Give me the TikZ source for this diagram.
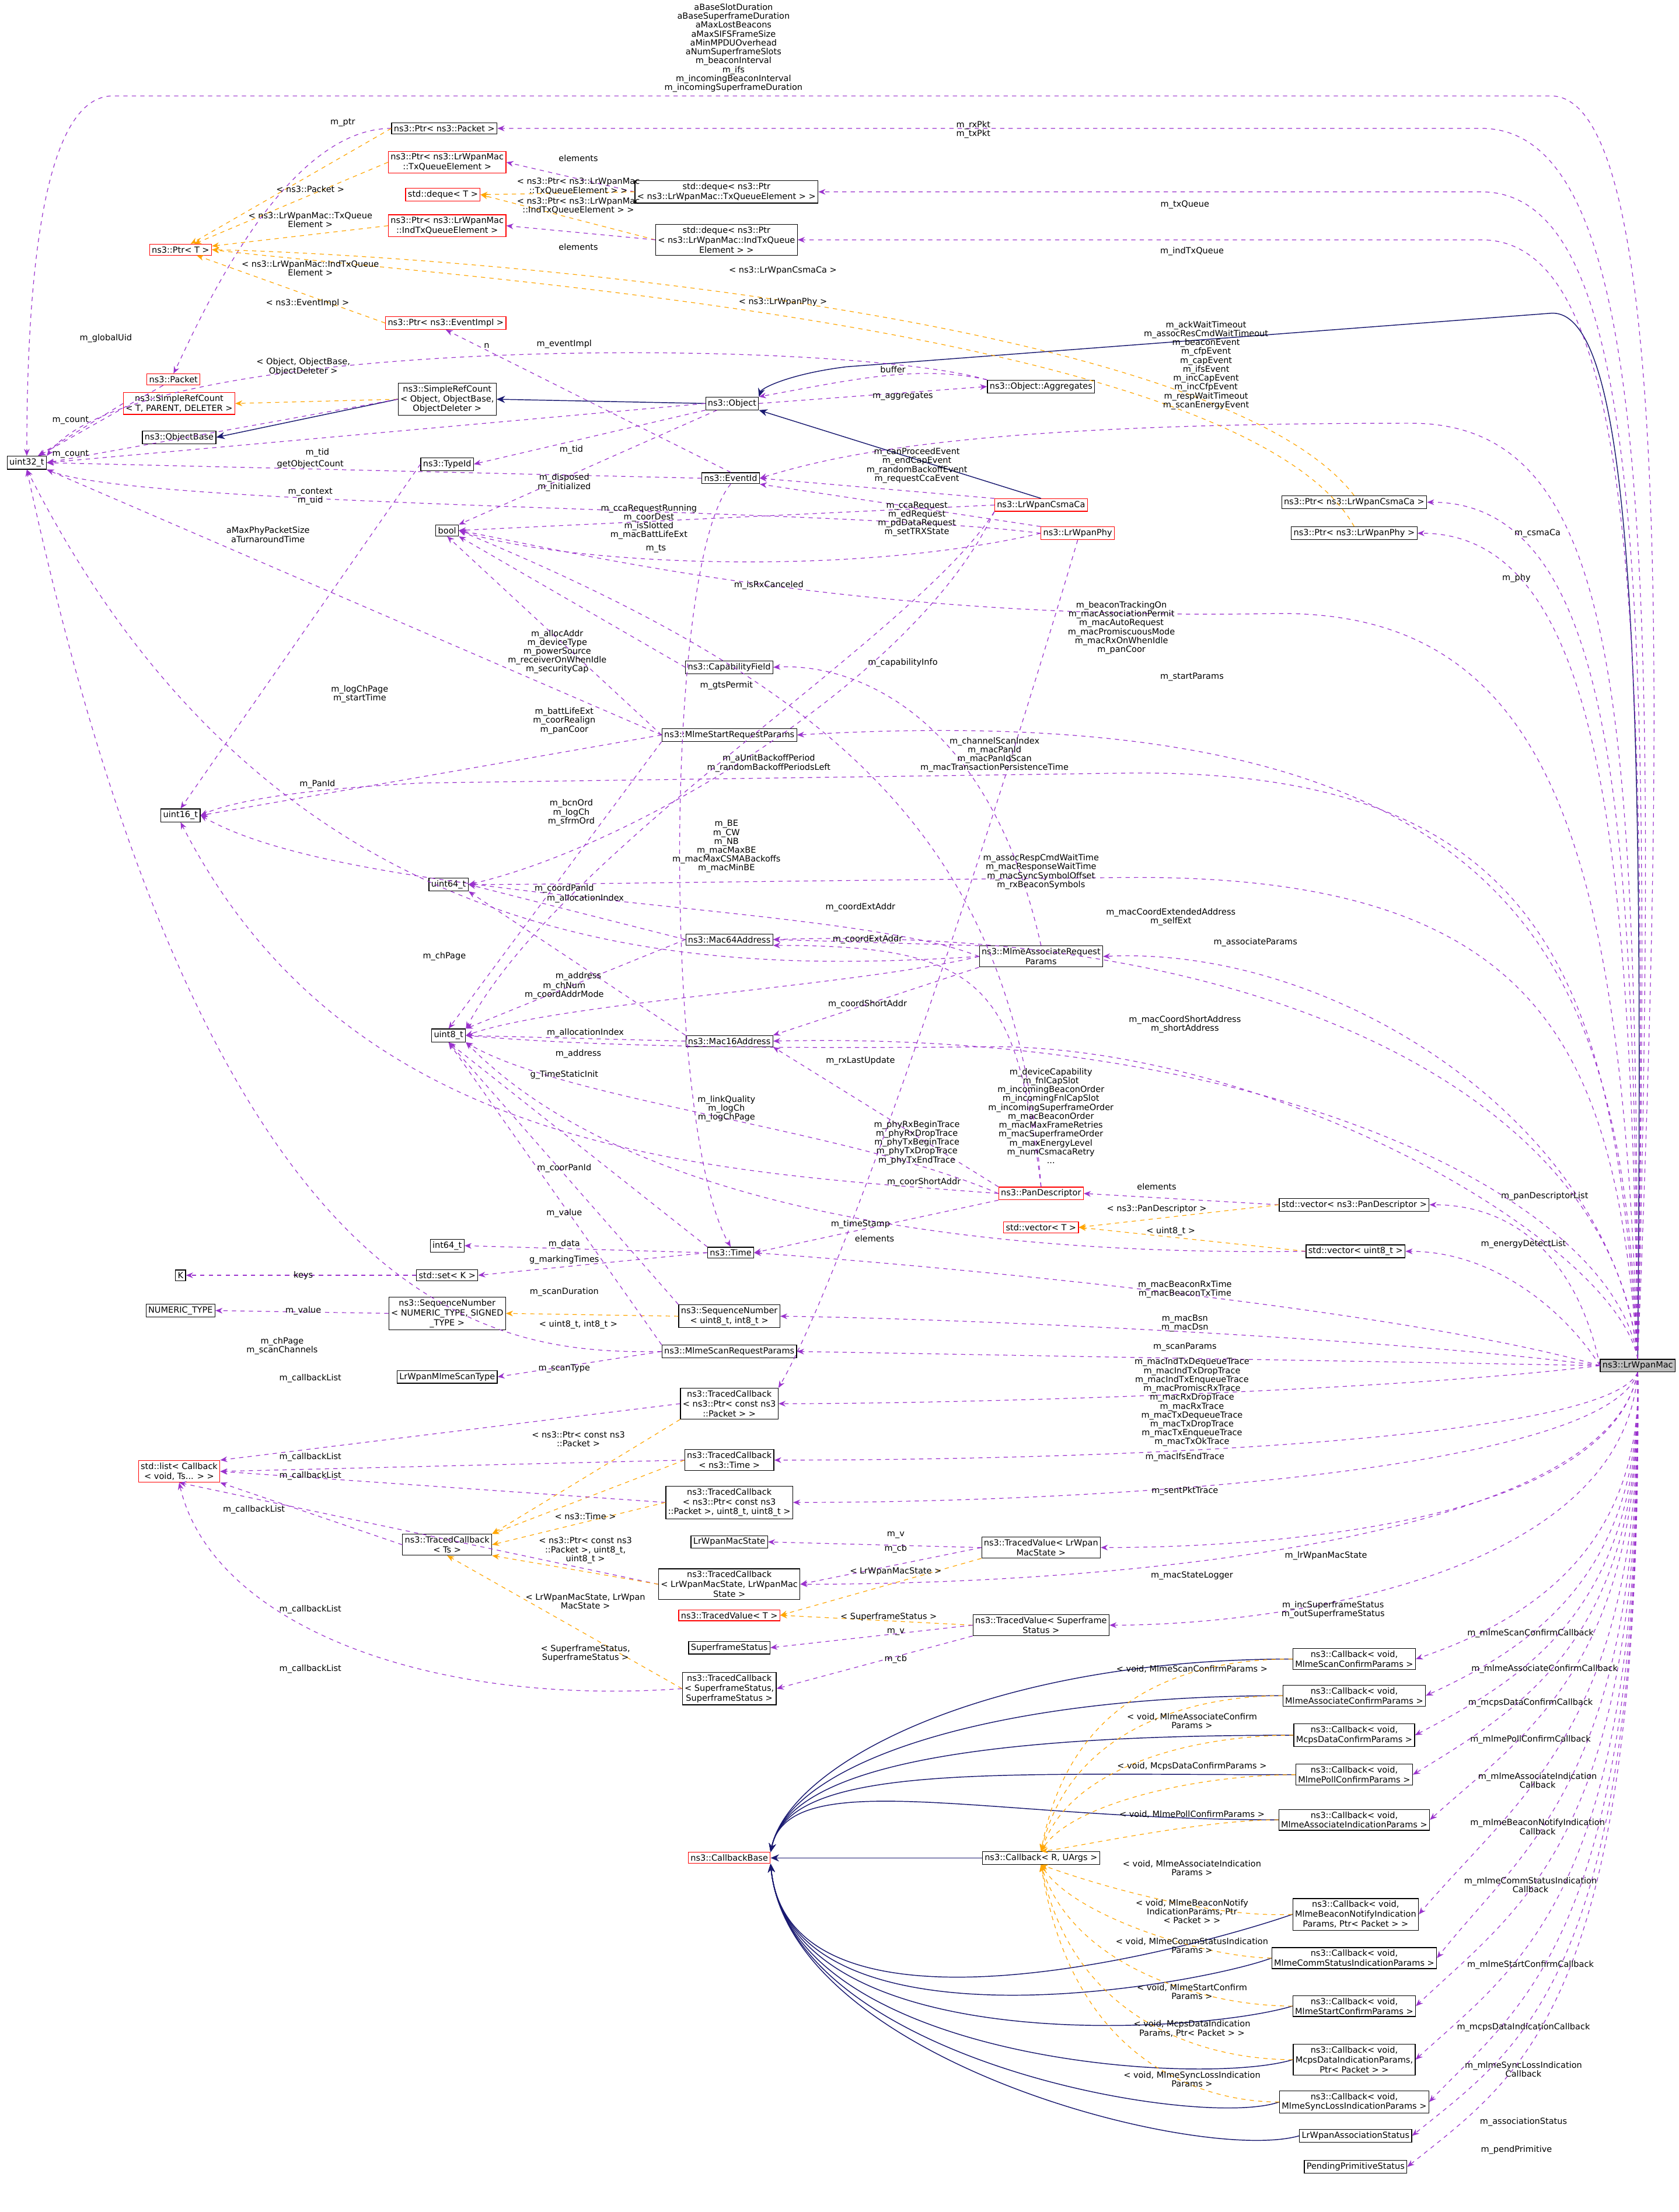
\documentclass[tikz,border=0pt]{standalone}
\usepackage{fontspec}
\setmainfont{DejaVu Sans}
\usetikzlibrary{arrows.meta}
\definecolor{navy}{HTML}{191970}
\definecolor{purp}{HTML}{9A32CD}
\definecolor{orng}{HTML}{FFA500}
\tikzset{
 bx/.style={draw=black,fill=white,font=\fontsize{6}{7}\selectfont,align=center,inner sep=1.6pt,line width=0.5pt},
 rbx/.style={bx,draw=red},
 gbx/.style={bx,fill=black!25},
 use/.style={draw=purp,dashed,-{Stealth[length=5pt,width=4pt]},line width=0.5pt},
 inh/.style={draw=navy,-{Stealth[length=6pt,width=5pt]},line width=0.6pt},
 tpl/.style={draw=orng,dashed,-{Stealth[length=5pt,width=4pt]},line width=0.5pt},
 lbl/.style={font=\fontsize{6}{6.3}\selectfont,align=center,inner sep=0.5pt}
}
\begin{document}
\begin{tikzpicture}[x=1pt,y=-1pt]
\useasboundingbox[fill=white] (0,0) rectangle (1190,1568);
% ---------- nodes
\node[bx] (u32) at (19,328) {uint32\_t};
\node[rbx] (packet) at (123,269) {ns3::Packet};
\node[rbx] (ptrT) at (128,177) {ns3::Ptr< T >};
\node[bx] (ptrPkt) at (315,91) {ns3::Ptr< ns3::Packet >};
\node[rbx] (ptrTxQE) at (317,115) {ns3::Ptr< ns3::LrWpanMac\\::TxQueueElement >};
\node[rbx] (dequeT) at (314,138) {std::deque< T >};
\node[rbx] (ptrIndQE) at (317,160) {ns3::Ptr< ns3::LrWpanMac\\::IndTxQueueElement >};
\node[bx] (dqTx) at (515,136) {std::deque< ns3::Ptr\\< ns3::LrWpanMac::TxQueueElement > >};
\node[bx] (dqInd) at (515,170) {std::deque< ns3::Ptr\\< ns3::LrWpanMac::IndTxQueue\\Element > >};
\node[rbx] (ptrEv) at (316,229) {ns3::Ptr< ns3::EventImpl >};
\node[rbx] (srcT) at (127,286) {ns3::SimpleRefCount\\< T, PARENT, DELETER >};
\node[bx] (objBase) at (127,310) {ns3::ObjectBase};
\node[bx] (srcObj) at (317,283) {ns3::SimpleRefCount\\< Object, ObjectBase,\\ObjectDeleter >};
\node[bx] (obj) at (519,286) {ns3::Object};
\node[bx] (aggr) at (738,274) {ns3::Object::Aggregates};
\node[bx] (typeId) at (317,329) {ns3::TypeId};
\node[bx] (eventId) at (518,339) {ns3::EventId};
\node[bx] (bool) at (317,376) {bool};
\node[rbx] (csma) at (738,358) {ns3::LrWpanCsmaCa};
\node[rbx] (phy) at (764,378) {ns3::LrWpanPhy};
\node[bx] (ptrCsma) at (960,356) {ns3::Ptr< ns3::LrWpanCsmaCa >};
\node[bx] (ptrPhy) at (960,378) {ns3::Ptr< ns3::LrWpanPhy >};
\node[bx] (capField) at (517,473) {ns3::CapabilityField};
\node[bx] (startReq) at (517,521) {ns3::MlmeStartRequestParams};
\node[bx] (u16) at (128,578) {uint16\_t};
\node[bx] (u64) at (318,627) {uint64\_t};
\node[bx] (mac64) at (517,666) {ns3::Mac64Address};
\node[bx] (assocReq) at (738,678) {ns3::MlmeAssociateRequest\\Params};
\node[bx] (u8) at (318,734) {uint8\_t};
\node[bx] (mac16) at (517,738) {ns3::Mac16Address};
\node[rbx] (panDesc) at (738,846) {ns3::PanDescriptor};
\node[bx] (vecPan) at (960,854) {std::vector< ns3::PanDescriptor >};
\node[rbx] (vecT) at (738,870) {std::vector< T >};
\node[bx] (vecU8) at (961,887) {std::vector< uint8\_t >};
\node[bx] (i64) at (317,883) {int64\_t};
\node[bx] (K) at (128,904) {K};
\node[bx] (setK) at (317,904) {std::set< K >};
\node[bx] (time) at (518,888) {ns3::Time};
\node[bx] (numT) at (128,929) {NUMERIC\_TYPE};
\node[bx] (seqT) at (317,931) {ns3::SequenceNumber\\< NUMERIC\_TYPE, SIGNED\\\_TYPE >};
\node[bx] (seqU8) at (517,933) {ns3::SequenceNumber\\< uint8\_t, int8\_t >};
\node[bx] (scanReq) at (517,958) {ns3::MlmeScanRequestParams};
\node[bx] (scanType) at (317,976) {LrWpanMlmeScanType};
\node[bx] (tcPkt) at (517,995) {ns3::TracedCallback\\< ns3::Ptr< const ns3\\::Packet > >};
\node[rbx] (list) at (127,1043) {std::list< Callback\\< void, Ts... > >};
\node[bx] (tcTime) at (517,1035) {ns3::TracedCallback\\< ns3::Time >};
\node[bx] (tcPkt88) at (517,1065) {ns3::TracedCallback\\< ns3::Ptr< const ns3\\::Packet >, uint8\_t, uint8\_t >};
\node[bx] (tcTs) at (317,1095) {ns3::TracedCallback\\< Ts >};
\node[bx] (macStateT) at (517,1093) {LrWpanMacState};
\node[bx] (tvMacState) at (738,1097) {ns3::TracedValue< LrWpan\\MacState >};
\node[bx] (tcMacState) at (517,1123) {ns3::TracedCallback\\< LrWpanMacState, LrWpanMac\\State >};
\node[rbx] (tvT) at (517,1145) {ns3::TracedValue< T >};
\node[bx] (tvSf) at (738,1152) {ns3::TracedValue< Superframe\\Status >};
\node[bx] (sfStat) at (517,1168) {SuperframeStatus};
\node[bx] (tcSf) at (517,1197) {ns3::TracedCallback\\< SuperframeStatus,\\SuperframeStatus >};
\node[rbx] (cbBase) at (517,1317) {ns3::CallbackBase};
\node[bx] (cbR) at (738,1317) {ns3::Callback< R, UArgs >};
\node[bx] (cb1) at (960,1176) {ns3::Callback< void,\\MlmeScanConfirmParams >};
\node[bx] (cb2) at (960,1202) {ns3::Callback< void,\\MlmeAssociateConfirmParams >};
\node[bx] (cb3) at (960,1230) {ns3::Callback< void,\\McpsDataConfirmParams >};
\node[bx] (cb4) at (960,1258) {ns3::Callback< void,\\MlmePollConfirmParams >};
\node[bx] (cb5) at (960,1290) {ns3::Callback< void,\\MlmeAssociateIndicationParams >};
\node[bx] (cb6) at (961,1357) {ns3::Callback< void,\\MlmeBeaconNotifyIndication\\Params, Ptr< Packet > >};
\node[bx] (cb7) at (960,1388) {ns3::Callback< void,\\MlmeCommStatusIndicationParams >};
\node[bx] (cb8) at (960,1422) {ns3::Callback< void,\\MlmeStartConfirmParams >};
\node[bx] (cb9) at (960,1460) {ns3::Callback< void,\\McpsDataIndicationParams,\\Ptr< Packet > >};
\node[bx] (cb10) at (960,1490) {ns3::Callback< void,\\MlmeSyncLossIndicationParams >};
\node[bx] (assocStat) at (961,1514) {LrWpanAssociationStatus};
\node[bx] (pendPrim) at (961,1536) {PendingPrimitiveStatus};
\node[gbx] (mac) at (1161,968) {ns3::LrWpanMac};

% ---------- edges from LrWpanMac
\draw[inh] (mac.north) .. controls (1165,500) and (1160,220) .. (1100,222) -- (600,260) .. controls (560,265) and (540,275) .. (obj.north east);
\draw[use] (mac.north) .. controls (1180,500) and (1185,70) .. (1100,68) -- (80,68) .. controls (30,68) and (19,200) .. (u32.north);
\draw[use] (mac.north) .. controls (1175,400) and (1170,91) .. (1050,91) -- (ptrPkt.east);
\draw[use] (mac.north) .. controls (1170,420) and (1165,136) .. (1050,136) -- (dqTx.east);
\draw[use] (mac.north) .. controls (1168,440) and (1160,170) .. (1050,170) -- (dqInd.east);
\draw[use] (mac.north) .. controls (1160,500) and (1150,300) .. (1000,300) .. controls (700,300) and (600,320) .. (eventId.east);
\draw[use] (mac.north) .. controls (1158,600) and (1150,356) .. (ptrCsma.east);
\draw[use] (mac.north) .. controls (1156,620) and (1140,378) .. (ptrPhy.east);
\draw[use] (mac.north) .. controls (1150,600) and (1100,430) .. (900,435) .. controls (600,440) and (400,390) .. (bool.east);
\draw[use] (mac.north) .. controls (1150,700) and (1100,490) .. (startReq.east);
\draw[use] (mac.north) .. controls (1145,700) and (1100,545) .. (800,548) -- (300,555) .. controls (200,560) and (160,570) .. (u16.east);
\draw[use] (mac.north) .. controls (1145,750) and (1100,620) .. (800,622) .. controls (500,625) and (400,627) .. (u64.east);
\draw[use] (mac.north) .. controls (1145,780) and (900,655) .. (mac64.east);
\draw[use] (mac.north) .. controls (1145,800) and (950,670) .. (assocReq.east);
\draw[use] (mac.north) .. controls (1145,850) and (900,730) .. (mac16.east);
\draw[use] (mac.north) .. controls (1145,880) and (900,740) .. (700,742) .. controls (500,744) and (400,740) .. (u8.east);
\draw[use] (mac.west) .. controls (1120,900) and (1080,854) .. (vecPan.east);
\draw[use] (mac.west) .. controls (1110,930) and (1060,887) .. (vecU8.east);
\draw[use] (mac.west) .. controls (1000,930) and (700,900) .. (time.east);
\draw[use] (mac.west) .. controls (1000,950) and (700,935) .. (seqU8.east);
\draw[use] (mac.west) -- (scanReq.east);
\draw[use] (mac.west) .. controls (1000,985) and (700,995) .. (tcPkt.east);
\draw[use] (mac.south) .. controls (1140,1020) and (800,1035) .. (tcTime.east);
\draw[use] (mac.south) .. controls (1140,1040) and (800,1065) .. (tcPkt88.east);
\draw[use] (mac.south) .. controls (1140,1080) and (900,1097) .. (tvMacState.east);
\draw[use] (mac.south) .. controls (1140,1090) and (800,1123) .. (tcMacState.east);
\draw[use] (mac.south) .. controls (1150,1120) and (900,1152) .. (tvSf.east);
\foreach \c/\h in {cb1/1100,cb2/1120,cb3/1140,cb4/1160,cb5/1180,cb6/1220,cb7/1260,cb8/1300,cb9/1340,cb10/1370,assocStat/1400,pendPrim/1420}
  \draw[use] (mac.south) .. controls (1165,\h) and (1080,\h+50) .. (\c.east);

% ---------- other edges
\draw[use] (packet) -- (u32);
\draw[use] (ptrPkt.west) .. controls (200,91) and (140,230) .. (packet.north);
\draw[tpl] (ptrPkt.west) -- (ptrT);
\draw[tpl] (ptrTxQE.west) -- (ptrT);
\draw[tpl] (ptrIndQE.west) -- (ptrT);
\draw[tpl] (ptrEv.west) -- (ptrT);
\draw[tpl] (ptrCsma.north) .. controls (860,220) and (300,180) .. (ptrT.east);
\draw[tpl] (ptrPhy.north) .. controls (880,230) and (300,195) .. (ptrT.east);
\draw[use] (dqTx.west) -- (ptrTxQE.east);
\draw[tpl] (dqTx.west) -- (dequeT.east);
\draw[tpl] (dqInd.west) -- (dequeT.east);
\draw[use] (dqInd.west) -- (ptrIndQE.east);
\draw[tpl] (srcObj.west) -- (srcT.east);
\draw[use] (srcT.west) -- (u32);
\draw[inh] (srcObj.west) -- (objBase.east);
\draw[use] (srcObj.west) -- (u32.east);
\draw[inh] (obj.west) -- (srcObj.east);
\draw[use] (obj.west) -- (u32.east);
\draw[use] (obj) -- (bool.north east);
\draw[use] (obj.east) -- (aggr.west);
\draw[use] (aggr.north west) .. controls (650,258) and (600,270) .. (obj.north east);
\draw[use] (aggr.north west) .. controls (600,240) and (100,235) .. (u32.north east);
\draw[use] (obj.south west) -- (typeId.east);
\draw[use] (typeId.west) -- (u16.north);
\draw[use] (eventId.north) -- (ptrEv.south);
\draw[use] (eventId.west) -- (u32.east);
\draw[use] (eventId.south) .. controls (470,400) and (470,800) .. (time.north);
\draw[inh] (csma.north) -- (obj.south east);
\draw[use] (csma.north west) -- (eventId.east);
\draw[use] (csma.west) -- (bool.east);
\draw[use] (csma.south west) .. controls (650,450) and (400,600) .. (u8.north east);
\draw[use] (csma.south west) .. controls (650,480) and (450,600) .. (u64.east);
\draw[use] (phy.north west) -- (eventId.south east);
\draw[use] (phy.west) .. controls (600,410) and (400,400) .. (bool.east);
\draw[use] (phy.west) .. controls (600,360) and (100,360) .. (u32.south east);
\draw[use] (phy.south) .. controls (700,600) and (600,900) .. (tcPkt.north east);
\draw[use] (capField.west) -- (bool.south east);
\draw[use] (startReq.west) -- (bool.south);
\draw[use] (startReq.west) -- (u32.south east);
\draw[use] (startReq.west) -- (u16.east);
\draw[use] (startReq.south west) -- (u8.north);
\draw[use] (assocReq.north) .. controls (700,500) and (600,470) .. (capField.east);
\draw[use] (assocReq.north west) -- (mac64.east);
\draw[use] (assocReq.west) .. controls (500,690) and (200,690) .. (u32.south);
\draw[use] (assocReq.west) .. controls (600,700) and (400,710) .. (u8.east);
\draw[use] (assocReq.south west) -- (mac16.north east);
\draw[use] (assocReq.west) .. controls (600,640) and (250,640) .. (u16.east);
\draw[use] (mac64.west) -- (u64.east);
\draw[use] (mac64.west) -- (u8.north east);
\draw[use] (mac16.west) -- (u8.east);
\draw[use] (mac16.north west) -- (u64.south east);
\draw[use] (panDesc.north) .. controls (720,600) and (600,490) .. (bool.east);
\draw[use] (panDesc.north west) -- (mac16.south east);
\draw[use] (panDesc.west) .. controls (500,830) and (250,820) .. (u16.south);
\draw[use] (panDesc.west) .. controls (600,800) and (400,780) .. (u8.south east);
\draw[use] (panDesc.south west) -- (time.east);
\draw[use] (panDesc.north) .. controls (720,700) and (700,670) .. (mac64.south east);
\draw[use] (time.north west) -- (u8.south);
\draw[use] (time.west) -- (i64.east);
\draw[use] (time.west) -- (setK.east);
\draw[use] (setK.west) -- (K.east);
\draw[use] (vecPan.west) -- (panDesc.east);
\draw[tpl] (vecPan.west) -- (vecT.east);
\draw[tpl] (vecU8.west) -- (vecT.east);
\draw[use] (vecU8.west) .. controls (700,890) and (450,860) .. (u8.south east);
\draw[use] (seqT.west) -- (numT.east);
\draw[tpl] (seqU8.west) -- (seqT.east);
\draw[use] (seqU8.north west) -- (u8.south);
\draw[use] (scanReq.west) .. controls (350,960) and (150,940) .. (u32.south);
\draw[use] (scanReq.west) -- (scanType.east);
\draw[use] (scanReq.north west) -- (u8.south);
\draw[use] (tcPkt.west) -- (list.north east);
\draw[tpl] (tcPkt.south west) -- (tcTs.north east);
\draw[use] (tcTime.west) -- (list.east);
\draw[tpl] (tcTime.west) -- (tcTs.north east);
\draw[use] (tcPkt88.west) -- (list.east);
\draw[tpl] (tcPkt88.west) -- (tcTs.east);
\draw[use] (tcTs.west) -- (list.south east);
\draw[use] (tvMacState.west) -- (macStateT.east);
\draw[use] (tvMacState.west) -- (tcMacState.east);
\draw[tpl] (tvMacState.south west) -- (tvT.east);
\draw[use] (tcMacState.west) -- (list.south);
\draw[tpl] (tcMacState.west) -- (tcTs.south east);
\draw[tpl] (tvSf.west) -- (tvT.east);
\draw[use] (tvSf.west) -- (sfStat.east);
\draw[use] (tvSf.south west) -- (tcSf.east);
\draw[use] (tcSf.west) .. controls (300,1210) and (150,1150) .. (list.south);
\draw[tpl] (tcSf.west) -- (tcTs.south);
\draw[inh] (cbR.west) -- (cbBase.east);
\foreach \c/\i in {cb1/1176,cb2/1202,cb3/1230,cb4/1258,cb5/1290}
  \draw[inh] (\c.west) .. controls (700,\i) and (560,1250) .. (cbBase.north east);
\foreach \c/\i in {cb6/1360,cb7/1387,cb8/1422,cb9/1460,cb10/1490,assocStat/1514}
  \draw[inh] (\c.west) .. controls (850,\i+20) and (560,1460) .. (cbBase.south east);
\foreach \c/\i in {cb1/1176,cb2/1202,cb3/1230,cb4/1258,cb5/1290}
  \draw[tpl] (\c.west) .. controls (850,\i) and (760,\i+20) .. (cbR.north);
\foreach \c/\i in {cb6/1360,cb7/1387,cb8/1422,cb9/1460,cb10/1490}
  \draw[tpl] (\c.west) .. controls (850,\i) and (760,\i-30) .. (cbR.south);

% ---------- labels
\begin{scope}[every node/.style={lbl}]
\node at (520,34) {aBaseSlotDuration\\aBaseSuperframeDuration\\aMaxLostBeacons\\aMaxSIFSFrameSize\\aMinMPDUOverhead\\aNumSuperframeSlots\\m\_beaconInterval\\m\_ifs\\m\_incomingBeaconInterval\\m\_incomingSuperframeDuration};
\node at (690,92) {m\_rxPkt\\m\_txPkt};
\node at (840,145) {m\_txQueue};
\node at (845,178) {m\_indTxQueue};
\node at (855,259) {m\_ackWaitTimeout\\m\_assocResCmdWaitTimeout\\m\_beaconEvent\\m\_cfpEvent\\m\_capEvent\\m\_ifsEvent\\m\_incCapEvent\\m\_incCfpEvent\\m\_respWaitTimeout\\m\_scanEnergyEvent};
\node at (1090,378) {m\_csmaCa};
\node at (1075,410) {m\_phy};
\node at (795,445) {m\_beaconTrackingOn\\m\_macAssociationPermit\\m\_macAutoRequest\\m\_macPromiscuousMode\\m\_macRxOnWhenIdle\\m\_panCoor};
\node at (845,480) {m\_startParams};
\node at (705,535) {m\_channelScanIndex\\m\_macPanId\\m\_macPanIdScan\\m\_macTransactionPersistenceTime};
\node at (738,618) {m\_assocRespCmdWaitTime\\m\_macResponseWaitTime\\m\_macSyncSymbolOffset\\m\_rxBeaconSymbols};
\node at (830,650) {m\_macCoordExtendedAddress\\m\_selfExt};
\node at (890,668) {m\_associateParams};
\node at (840,726) {m\_macCoordShortAddress\\m\_shortAddress};
\node at (745,791) {m\_deviceCapability\\m\_fnlCapSlot\\m\_incomingBeaconOrder\\m\_incomingFnlCapSlot\\m\_incomingSuperframeOrder\\m\_macBeaconOrder\\m\_macMaxFrameRetries\\m\_macSuperframeOrder\\m\_maxEnergyLevel\\m\_numCsmacaRetry\\...};
\node at (1095,848) {m\_panDescriptorList};
\node at (1080,882) {m\_energyDetectList};
\node at (840,914) {m\_macBeaconRxTime\\m\_macBeaconTxTime};
\node at (840,938) {m\_macBsn\\m\_macDsn};
\node at (840,955) {m\_scanParams};
\node at (845,994) {m\_macIndTxDequeueTrace\\m\_macIndTxDropTrace\\m\_macIndTxEnqueueTrace\\m\_macPromiscRxTrace\\m\_macRxDropTrace\\m\_macRxTrace\\m\_macTxDequeueTrace\\m\_macTxDropTrace\\m\_macTxEnqueueTrace\\m\_macTxOkTrace};
\node at (840,1033) {m\_macIfsEndTrace};
\node at (840,1057) {m\_sentPktTrace};
\node at (940,1103) {m\_lrWpanMacState};
\node at (845,1117) {m\_macStateLogger};
\node at (945,1141) {m\_incSuperframeStatus\\m\_outSuperframeStatus};
\node at (1085,1158) {m\_mlmeScanConfirmCallback};
\node at (1095,1183) {m\_mlmeAssociateConfirmCallback};
\node at (1085,1207) {m\_mcpsDataConfirmCallback};
\node at (1085,1233) {m\_mlmePollConfirmCallback};
\node at (1090,1262) {m\_mlmeAssociateIndication\\Callback};
\node at (1090,1295) {m\_mlmeBeaconNotifyIndication\\Callback};
\node at (1085,1336) {m\_mlmeCommStatusIndication\\Callback};
\node at (1085,1393) {m\_mlmeStartConfirmCallback};
\node at (1080,1437) {m\_mcpsDataIndicationCallback};
\node at (1080,1467) {m\_mlmeSyncLossIndication\\Callback};
\node at (1080,1504) {m\_associationStatus};
\node at (1075,1524) {m\_pendPrimitive};
% left part
\node at (75,240) {m\_globalUid};
\node at (243,87) {m\_ptr};
\node at (220,134) {< ns3::Packet >};
\node at (220,156) {< ns3::LrWpanMac::TxQueue\\Element >};
\node at (220,190) {< ns3::LrWpanMac::IndTxQueue\\Element >};
\node at (218,215) {< ns3::EventImpl >};
\node at (555,192) {< ns3::LrWpanCsmaCa >};
\node at (555,214) {< ns3::LrWpanPhy >};
\node at (410,112) {elements};
\node at (410,132) {< ns3::Ptr< ns3::LrWpanMac\\::TxQueueElement > >};
\node at (410,146) {< ns3::Ptr< ns3::LrWpanMac\\::IndTxQueueElement > >};
\node at (410,175) {elements};
\node at (215,260) {< Object, ObjectBase,\\ObjectDeleter >};
\node at (50,298) {m\_count};
\node at (50,322) {m\_count};
\node at (220,329) {getObjectCount};
\node at (400,342) {m\_disposed\\m\_initialized};
\node at (640,281) {m\_aggregates};
\node at (633,262) {buffer};
\node at (345,245) {n};
\node at (400,244) {m\_eventImpl};
\node at (220,352) {m\_context\\m\_uid};
\node at (465,389) {m\_ts};
\node at (225,321) {m\_tid};
\node at (405,319) {m\_tid};
\node at (650,330) {m\_canProceedEvent\\m\_endCapEvent\\m\_randomBackoffEvent\\m\_requestCcaEvent};
\node at (460,370) {m\_ccaRequestRunning\\m\_coorDest\\m\_isSlotted\\m\_macBattLifeExt};
\node at (515,600) {m\_BE\\m\_CW\\m\_NB\\m\_macMaxBE\\m\_macMaxCSMABackoffs\\m\_macMinBE};
\node at (545,541) {m\_aUnitBackoffPeriod\\m\_randomBackoffPeriodsLeft};
\node at (650,368) {m\_ccaRequest\\m\_edRequest\\m\_pdDataRequest\\m\_setTRXState};
\node at (545,415) {m\_isRxCanceled};
\node at (190,379) {aMaxPhyPacketSize\\aTurnaroundTime};
\node at (650,810) {m\_phyRxBeginTrace\\m\_phyRxDropTrace\\m\_phyTxBeginTrace\\m\_phyTxDropTrace\\m\_phyTxEndTrace};
\node at (395,462) {m\_allocAddr\\m\_deviceType\\m\_powerSource\\m\_receiverOnWhenIdle\\m\_securityCap};
\node at (400,511) {m\_battLifeExt\\m\_coorRealign\\m\_panCoor};
\node at (255,492) {m\_logChPage\\m\_startTime};
\node at (225,556) {m\_PanId};
\node at (405,576) {m\_bcnOrd\\m\_logCh\\m\_sfrmOrd};
\node at (640,470) {m\_capabilityInfo};
\node at (610,643) {m\_coordExtAddr};
\node at (615,666) {m\_coordExtAddr};
\node at (315,678) {m\_chPage};
\node at (400,702) {m\_chNum\\m\_coordAddrMode};
\node at (615,712) {m\_coordShortAddr};
\node at (400,630) {m\_coordPanId};
\node at (415,637) {m\_allocationIndex};
\node at (410,692) {m\_address};
\node at (410,747) {m\_address};
\node at (415,732) {m\_allocationIndex};
\node at (515,486) {m\_gtsPermit};
\node at (655,838) {m\_coorShortAddr};
\node at (400,828) {m\_coorPanId};
\node at (515,786) {m\_linkQuality\\m\_logCh\\m\_logChPage};
\node at (610,868) {m\_timeStamp};
\node at (610,752) {m\_rxLastUpdate};
\node at (400,762) {g\_TimeStaticInit};
\node at (400,882) {m\_data};
\node at (400,893) {g\_markingTimes};
\node at (215,904) {keys};
\node at (820,841) {elements};
\node at (820,857) {< ns3::PanDescriptor >};
\node at (830,873) {< uint8\_t >};
\node at (620,878) {elements};
\node at (215,929) {m\_value};
\node at (410,939) {< uint8\_t, int8\_t >};
\node at (400,860) {m\_value};
\node at (200,954) {m\_chPage\\m\_scanChannels};
\node at (400,970) {m\_scanType};
\node at (400,916) {m\_scanDuration};
\node at (220,977) {m\_callbackList};
\node at (410,1020) {< ns3::Ptr< const ns3\\::Packet >};
\node at (220,1033) {m\_callbackList};
\node at (415,1075) {< ns3::Time >};
\node at (220,1046) {m\_callbackList};
\node at (415,1099) {< ns3::Ptr< const ns3\\::Packet >, uint8\_t,\\uint8\_t >};
\node at (180,1070) {m\_callbackList};
\node at (635,1088) {m\_v};
\node at (635,1098) {m\_cb};
\node at (635,1114) {< LrWpanMacState >};
\node at (220,1141) {m\_callbackList};
\node at (415,1135) {< LrWpanMacState, LrWpan\\MacState >};
\node at (630,1146) {< SuperframeStatus >};
\node at (635,1157) {m\_v};
\node at (635,1176) {m\_cb};
\node at (220,1183) {m\_callbackList};
\node at (415,1172) {< SuperframeStatus,\\SuperframeStatus >};
\node at (845,1183) {< void, MlmeScanConfirmParams >};
\node at (845,1220) {< void, MlmeAssociateConfirm\\Params >};
\node at (845,1252) {< void, McpsDataConfirmParams >};
\node at (845,1286) {< void, MlmePollConfirmParams >};
\node at (845,1324) {< void, MlmeAssociateIndication\\Params >};
\node at (845,1355) {< void, MlmeBeaconNotify\\IndicationParams, Ptr\\< Packet > >};
\node at (845,1379) {< void, MlmeCommStatusIndication\\Params >};
\node at (845,1412) {< void, MlmeStartConfirm\\Params >};
\node at (845,1438) {< void, McpsDataIndication\\Params, Ptr< Packet > >};
\node at (845,1474) {< void, MlmeSyncLossIndication\\Params >};
\end{scope}
\end{tikzpicture}
\end{document}
